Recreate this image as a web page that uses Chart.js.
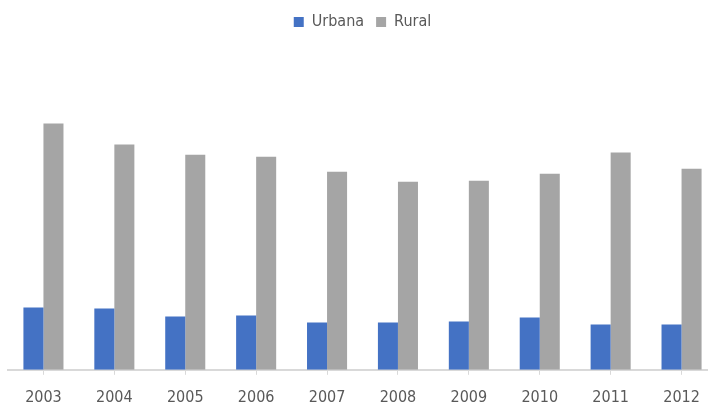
<!DOCTYPE html>
<html>
<head>
<meta charset="utf-8">
<script src="https://cdn.jsdelivr.net/npm/chart.js@4/dist/chart.umd.min.js"></script>
<style>
    html, body { margin: 0; padding: 0; background: #fff; overflow: hidden; }
    #wrap { position: relative; width: 717px; height: 421px; }
</style>
</head>
<body>
<div id="wrap"><canvas id="chart"></canvas></div>
<script>
const years = ['2003', '2004', '2005', '2006', '2007', '2008', '2009', '2010', '2011', '2012'];
const urbana = [62, 61, 53, 54, 47, 47, 48, 52, 45, 45];
const rural = [245, 224, 214, 212, 197, 187, 188, 195, 216, 200];
const yMax = 328;

const labelFont = { family: "'DejaVu Sans Condensed', 'DejaVu Sans', sans-serif", size: 16 };

new Chart(document.getElementById('chart'), {
    type: 'bar',
    data: {
        labels: years,
        datasets: [
            { label: 'Urbana', data: urbana, backgroundColor: '#4472C4' },
            { label: 'Rural', data: rural, backgroundColor: '#A5A5A5' }
        ]
    },
    options: {
        responsive: true,
        maintainAspectRatio: false,
        animation: false,
        layout: { padding: { left: 8, right: 0, top: 2, bottom: 1 } },
        datasets: { bar: { barPercentage: 1, categoryPercentage: 0.565 } },
        plugins: {
            legend: {
                position: 'top',
                labels: { boxWidth: 10, boxHeight: 10, padding: 12, color: '#595959', font: labelFont }
            },
            tooltip: { enabled: false }
        },
        scales: {
            x: {
                grid: { display: true, offset: false, drawOnChartArea: false, tickLength: 5, color: '#d9d9d9', lineWidth: 1 },
                border: { color: '#d9d9d9', width: 2 },
                ticks: { color: '#595959', font: labelFont, padding: 13, maxRotation: 0 }
            },
            y: {
                display: false,
                min: 0,
                max: yMax
            }
        }
    }
});
</script>
</body>
</html>
